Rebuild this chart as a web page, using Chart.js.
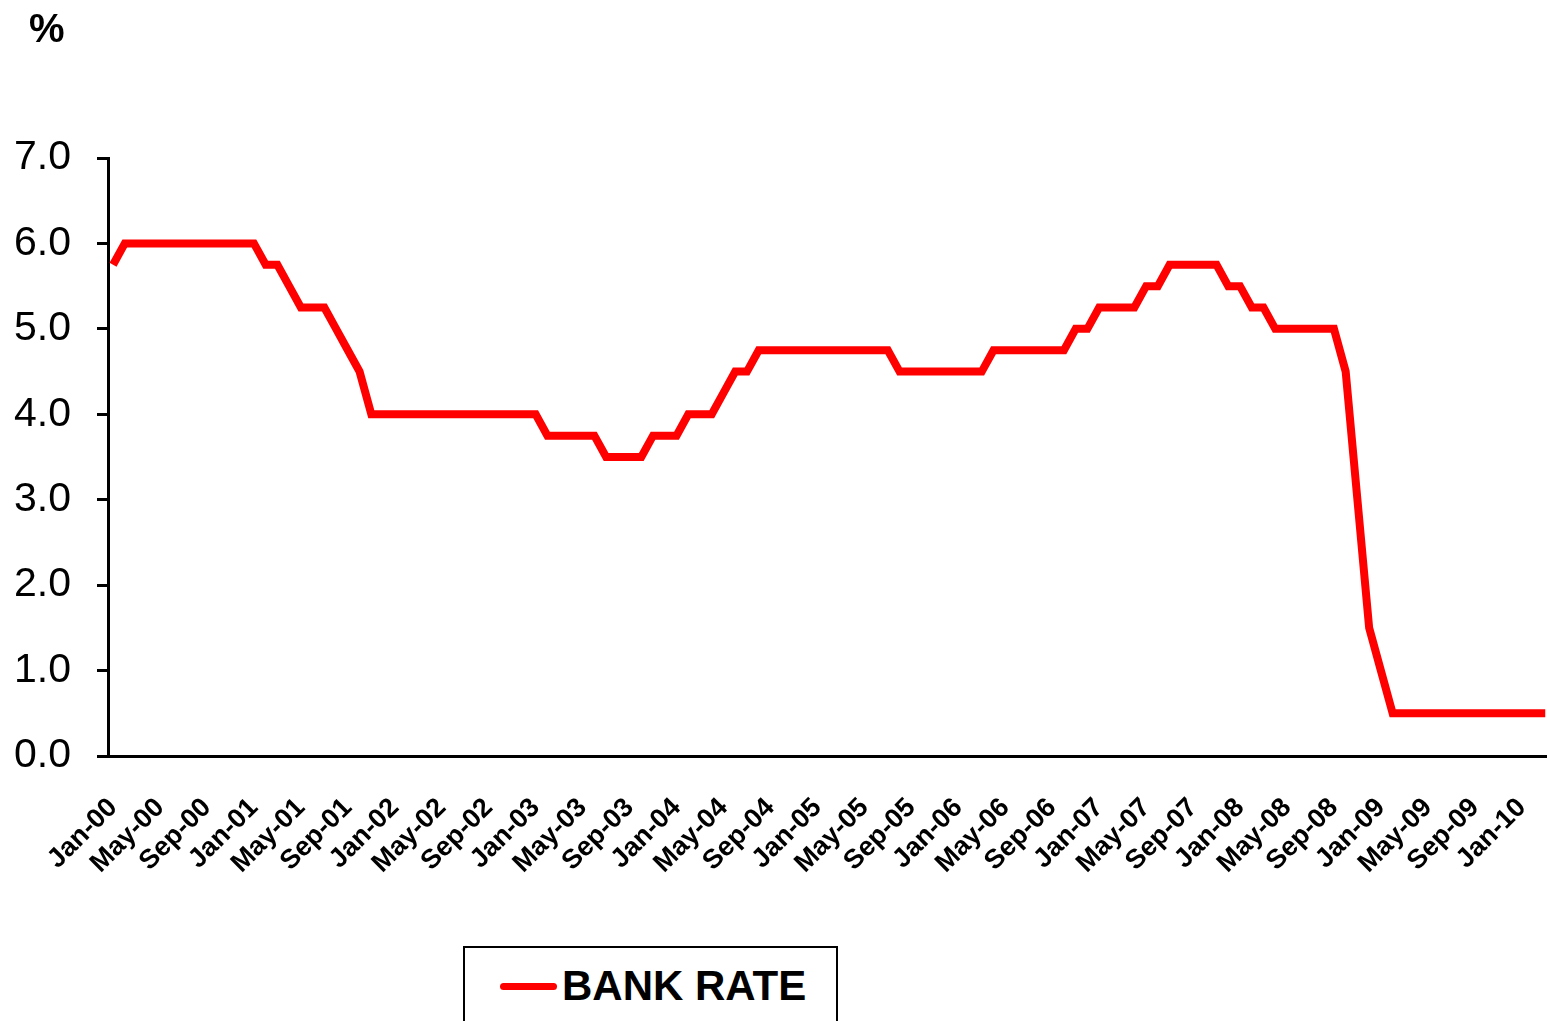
<!DOCTYPE html>
<html>
<head>
<meta charset="utf-8">
<script src="https://cdn.jsdelivr.net/npm/chart.js@4.4.1/dist/chart.umd.min.js"></script>
<style>
 body{margin:0;background:#fff;overflow:hidden}
 #wrap{position:relative;width:1547px;height:1021px}
 #pct{position:absolute;left:29px;top:8px;font:bold 40px "Liberation Sans",Arial,sans-serif;line-height:40px;color:#000}
 #legend{position:absolute;left:463px;top:946px;width:375px;height:90px;border:2px solid #000;box-sizing:border-box;background:#fff}
 #legend .swatch{position:absolute;left:35px;top:35px;width:57px;height:7px;border-radius:4px;background:#ff0000}
 #legend .txt{position:absolute;left:97px;top:17px;font:bold 42px "Liberation Sans",Arial,sans-serif;line-height:42px;color:#000;white-space:nowrap}
</style>
</head>
<body>
<div id="wrap">
 <canvas id="rateChart" width="1547" height="1021"></canvas>
 <div id="pct">%</div>
 <div id="legend"><div class="swatch"></div><div class="txt">BANK RATE</div></div>
</div>
<script>
// month-end bank rate, Jan-00 .. Mar-10
const rate2000 = [5.75,6,6,6,6,6,6,6,6,6,6,6]
const rate2001 = [6,5.75,5.75,5.5,5.25,5.25,5.25,5,4.75,4.5,4,4]
const rate2002 = [4,4,4,4,4,4,4,4,4,4,4,4]
const rate2003 = [4,3.75,3.75,3.75,3.75,3.75,3.5,3.5,3.5,3.5,3.75,3.75]
const rate2004 = [3.75,4,4,4,4.25,4.5,4.5,4.75,4.75,4.75,4.75,4.75]
const rate2005 = [4.75,4.75,4.75,4.75,4.75,4.75,4.75,4.5,4.5,4.5,4.5,4.5]
const rate2006 = [4.5,4.5,4.5,4.75,4.75,4.75,4.75,4.75,4.75,4.75,5,5]
const rate2007 = [5.25,5.25,5.25,5.25,5.5,5.5,5.75,5.75,5.75,5.75,5.75,5.5]
const rate2008 = [5.5,5.25,5.25,5,5,5,5,5,5,4.5,3,1.5]
const rate2009 = [1,0.5,0.5,0.5,0.5,0.5,0.5,0.5,0.5,0.5,0.5,0.5]
const rate2010 = [0.5,0.5,0.5]

const tickLabels = ["Jan-00","May-00","Sep-00","Jan-01","May-01","Sep-01","Jan-02","May-02","Sep-02",
 "Jan-03","May-03","Sep-03","Jan-04","May-04","Sep-04","Jan-05","May-05","Sep-05","Jan-06","May-06","Sep-06",
 "Jan-07","May-07","Sep-07","Jan-08","May-08","Sep-08","Jan-09","May-09","Sep-09","Jan-10"]

const yTicks = [0,1,2,3,4,5,6,7]

const rates = [].concat(rate2000,rate2001,rate2002,rate2003,rate2004,rate2005,
 rate2006,rate2007,rate2008,rate2009,rate2010)

const points = rates.map((v,i)=>({x:i,y:v}))

const font = '"Liberation Sans", Arial, sans-serif'

new Chart(document.getElementById("rateChart").getContext("2d"),{
 type:"line",
 data:{
  datasets:[{
   label:"BANK RATE",
   data:points,
   borderColor:"#ff0000",
   borderWidth:8,
   pointRadius:0,
   tension:0,
   fill:false
  }]
 },
 options:{
  responsive:false,
  animation:false,
  layout:{padding:{top:158,right:0,bottom:0,left:0}},
  plugins:{legend:{display:false},tooltip:{enabled:false}},
  scales:{
   x:{
    type:"linear",
    min:-0.43,
    max:122.15,
    grid:{display:false,drawTicks:false},
    border:{display:true,color:"#000",width:3},
    afterBuildTicks:s=>{ s.ticks = tickLabels.map((t,i)=>({value:i*4})) },
    afterFit:s=>{ s.height = 265; s.paddingLeft = 0; s.paddingRight = 0 },
    ticks:{
     autoSkip:false,
     minRotation:45,
     maxRotation:45,
     padding:36,
     color:"#000",
     font:{family:font,size:27,weight:"bold"},
     callback:v=>tickLabels[v/4]
    }
   },
   y:{
    min:0,
    max:7,
    afterBuildTicks:s=>{ s.ticks = yTicks.map(v=>({value:v})) },
    afterFit:s=>{ s.width = 108 },
    grid:{drawOnChartArea:false,drawTicks:true,tickLength:11,tickWidth:3,tickColor:"#000"},
    border:{display:true,color:"#000",width:3},
    ticks:{
     padding:26,
     color:"#000",
     font:{family:font,size:41},
     callback:v=>v.toFixed(1)
    }
   }
  }
 }
})
</script>
</body>
</html>
